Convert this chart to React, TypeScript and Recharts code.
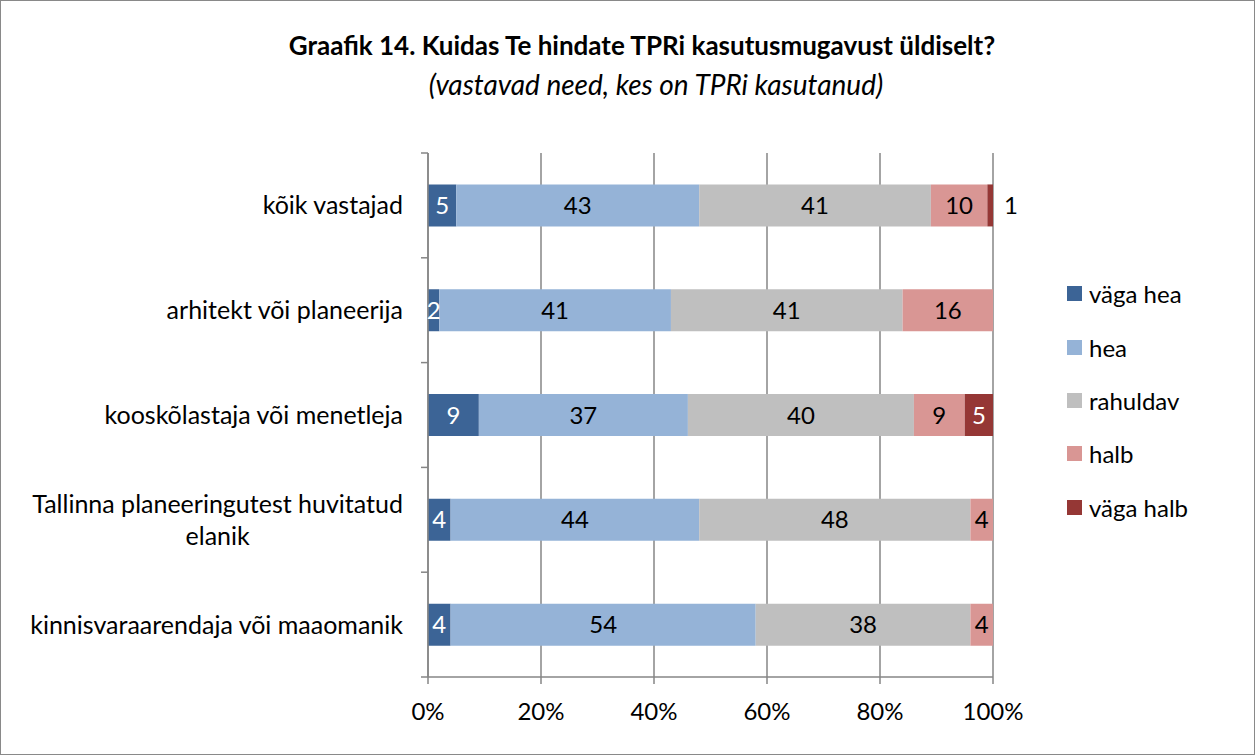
import React from 'react';
import { BarChart, Bar, XAxis, YAxis, CartesianGrid, LabelList } from 'recharts';

const categories = [
  'kõik vastajad',
  'arhitekt või planeerija',
  'kooskõlastaja või menetleja',
  'Tallinna planeeringutest huvitatud elanik',
  'kinnisvaraarendaja või maaomanik',
];

const vagaHea = [5, 2, 9, 4, 4];
const hea = [43, 41, 37, 44, 54];
const rahuldav = [41, 41, 40, 48, 38];
const halb = [10, 16, 9, 4, 4];
const vagaHalb = [1, 0, 5, 0, 0];

const xTicks = [0, 20, 40, 60, 80, 100];

const series = [
  { key: 'vagaHea', name: 'väga hea', color: '#3C6496', text: '#fff' },
  { key: 'hea', name: 'hea', color: '#95B3D7', text: '#000' },
  { key: 'rahuldav', name: 'rahuldav', color: '#BFBFBF', text: '#000' },
  { key: 'halb', name: 'halb', color: '#D99694', text: '#000' },
  { key: 'vagaHalb', name: 'väga halb', color: '#953735', text: '#fff' },
];

const data = categories.map((name, i) => ({
  name,
  vagaHea: vagaHea[i],
  hea: hea[i],
  rahuldav: rahuldav[i],
  halb: halb[i],
  vagaHalb: vagaHalb[i],
}));

const FONT = 'Lato, "Open Sans", sans-serif';
const GRID = '#868686';
const W = 1255;
const H = 755;
const PLOT_TOP = 153;
const PLOT_BOTTOM = 677;
const PLOT_LEFT = 428;
const PLOT_RIGHT = 993;
const Y_AXIS_W = 420;
const X_AXIS_H = 50;
const FS = 24;
const CAT_FS = 25;

let canvasCtx: CanvasRenderingContext2D | null = null;
function measure(text: string, size: number) {
  if (!canvasCtx) canvasCtx = document.createElement('canvas').getContext('2d');
  if (!canvasCtx) return text.length * size * 0.5;
  canvasCtx.font = `${size}px Lato`;
  return canvasCtx.measureText(text).width;
}

// simple word wrap, long category names go on two lines like in Excel
function wrap(text: string, maxChars = 34) {
  const words = text.split(' ');
  const lines: string[] = [];
  let cur = '';
  words.forEach((w) => {
    const next = cur ? cur + ' ' + w : w;
    if (next.length > maxChars && cur) {
      lines.push(cur);
      cur = w;
    } else cur = next;
  });
  if (cur) lines.push(cur);
  return lines;
}

const CategoryTick = (props: any) => {
  const { y, payload, index } = props;
  const band = (PLOT_BOTTOM - PLOT_TOP) / categories.length;
  const right = PLOT_LEFT - 25;
  const lines = wrap(payload.value);
  const lh = 32;
  const maxW = Math.max(...lines.map((l) => measure(l, CAT_FS)));
  const cx = right - maxW / 2;
  const startY = y - ((lines.length - 1) * lh) / 2;
  return (
    <g>
      <line x1={PLOT_LEFT - 7} x2={PLOT_LEFT} y1={y - band / 2} y2={y - band / 2} stroke={GRID} strokeWidth={1.5} />
      {index === categories.length - 1 && (
        <line x1={PLOT_LEFT - 7} x2={PLOT_LEFT} y1={y + band / 2} y2={y + band / 2} stroke={GRID} strokeWidth={1.5} />
      )}
      {lines.map((l, i) => (
        <text
          key={i}
          x={lines.length > 1 ? cx : right}
          y={startY + i * lh}
          dy="0.36em"
          textAnchor={lines.length > 1 ? 'middle' : 'end'}
          fontSize={CAT_FS}
          fontFamily={FONT}
          fill="#000"
        >
          {l}
        </text>
      ))}
    </g>
  );
};

const makeLabel = (textColor: string, outsideWhenSmall: boolean) => (props: any) => {
  const { x, y, width, height, value } = props;
  if (!value) return null;
  const outside = outsideWhenSmall && width < 10;
  return (
    <text
      x={outside ? x + width + 18 : x + width / 2}
      y={y + height / 2}
      dy="0.36em"
      textAnchor="middle"
      fontSize={FS}
      fontFamily={FONT}
      fill={outside ? '#000' : textColor}
    >
      {value}
    </text>
  );
};

const ChartLegend = () => (
  <div style={{ position: 'absolute', left: 1066, top: 266, fontFamily: FONT, fontSize: FS }}>
    {series.map((s) => (
      <div key={s.key} style={{ display: 'flex', alignItems: 'center', height: 53.4 }}>
        <span style={{ width: 15, height: 15, background: s.color, display: 'inline-block', marginRight: 7 }} />
        <span>{s.name}</span>
      </div>
    ))}
  </div>
);

export default function App() {
  return (
    <div
      style={{
        position: 'absolute',
        left: 0,
        top: 0,
        width: W,
        height: H,
        background: '#fff',
        boxSizing: 'border-box',
        border: '1px solid #898989',
        fontFamily: FONT,
      }}
    >
      <div style={{ position: 'absolute', left: 641 - 500, width: 1000, top: 28, textAlign: 'center', fontWeight: 700, fontSize: 26 }}>
        Graafik 14. Kuidas Te hindate TPRi kasutusmugavust üldiselt?
      </div>
      <div style={{ position: 'absolute', left: 655 - 400, width: 800, top: 66, textAlign: 'center', fontStyle: 'italic', fontSize: 28 }}>
        (vastavad need, kes on TPRi kasutanud)
      </div>
      <div style={{ position: 'absolute', left: -1, top: -1 }}>
        <BarChart
          width={W}
          height={H}
          data={data}
          layout="vertical"
          barCategoryGap="30%"
          margin={{ top: PLOT_TOP, right: W - PLOT_RIGHT, bottom: H - PLOT_BOTTOM - X_AXIS_H, left: PLOT_LEFT - Y_AXIS_W }}
        >
          <CartesianGrid horizontal={false} stroke={GRID} strokeWidth={1.5} />
          <XAxis
            type="number"
            domain={[0, 100]}
            ticks={xTicks}
            interval={0}
            height={X_AXIS_H}
            tickFormatter={(v) => `${v}%`}
            tickSize={7}
            tickMargin={19}
            stroke={GRID}
            strokeWidth={1.5}
            tick={{ fill: '#000', fontSize: FS, fontFamily: FONT }}
          />
          <YAxis
            type="category"
            dataKey="name"
            width={Y_AXIS_W}
            tickLine={false}
            stroke={GRID}
            strokeWidth={1.5}
            interval={0}
            tick={<CategoryTick />}
          />
          {series.map((s) => (
            <Bar key={s.key} dataKey={s.key} name={s.name} stackId="a" fill={s.color} isAnimationActive={false}>
              <LabelList dataKey={s.key} content={makeLabel(s.text, s.key === 'vagaHalb')} />
            </Bar>
          ))}
        </BarChart>
      </div>
      <ChartLegend />
    </div>
  );
}
